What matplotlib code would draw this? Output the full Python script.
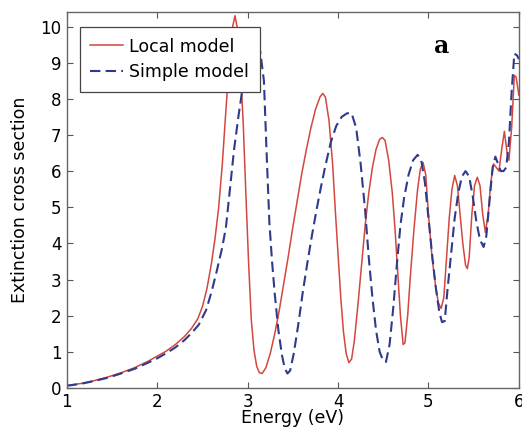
"""Extinction cross section vs energy: local vs simple model."""
import matplotlib
matplotlib.use("Agg")
import matplotlib.pyplot as plt

# ----- Data --------------------------------------------------------------

local_e = [1.00, 1.15, 1.30, 1.45, 1.60, 1.75, 1.90, 2.00, 2.10, 2.20, 2.30,
           2.38, 2.45, 2.50, 2.55, 2.60, 2.64, 2.68, 2.72, 2.76, 2.80, 2.83,
           2.86, 2.89, 2.92, 2.95, 2.98, 3.01, 3.04, 3.07, 3.10, 3.13, 3.16,
           3.20, 3.25, 3.30, 3.35, 3.40, 3.45, 3.50, 3.55, 3.60, 3.65, 3.70,
           3.75, 3.80, 3.83, 3.86, 3.90, 3.94, 3.97, 4.00, 4.03, 4.06, 4.09,
           4.12, 4.15, 4.18, 4.22, 4.26, 4.30, 4.34, 4.38, 4.42, 4.46, 4.49,
           4.52, 4.56, 4.60, 4.63, 4.66, 4.69, 4.72, 4.74, 4.77, 4.80, 4.84,
           4.88, 4.91, 4.94, 4.97, 5.00, 5.04, 5.08, 5.11, 5.14, 5.17, 5.20,
           5.23, 5.26, 5.29, 5.32, 5.35, 5.38, 5.41, 5.43, 5.45, 5.48, 5.51,
           5.54, 5.57, 5.60, 5.63, 5.66, 5.69, 5.72, 5.75, 5.78, 5.81, 5.84,
           5.87, 5.89, 5.92, 5.95, 5.97, 6.00]
local_v = [0.07, 0.12, 0.20, 0.30, 0.42, 0.56, 0.74, 0.88, 1.02, 1.20, 1.42,
           1.65, 1.92, 2.25, 2.75, 3.45, 4.15, 5.00, 6.20, 7.70, 9.10, 9.95,
           10.30, 9.90, 8.80, 7.40, 5.40, 3.50, 1.90, 1.05, 0.60, 0.42, 0.40,
           0.55, 0.95, 1.50, 2.15, 2.90, 3.65, 4.45, 5.20, 5.95, 6.60, 7.20,
           7.70, 8.05, 8.15, 8.05, 7.40, 6.20, 4.90, 3.70, 2.50, 1.55, 0.95,
           0.70, 0.80, 1.30, 2.30, 3.40, 4.50, 5.40, 6.10, 6.60, 6.88, 6.93,
           6.85, 6.30, 5.40, 4.40, 3.20, 2.00, 1.20, 1.25, 2.00, 3.10, 4.40,
           5.50, 6.05, 6.24, 5.90, 4.80, 3.60, 2.80, 2.35, 2.20, 2.50, 3.60,
           4.70, 5.50, 5.88, 5.60, 4.80, 4.00, 3.40, 3.30, 3.60, 4.80, 5.60,
           5.83, 5.60, 4.80, 4.30, 4.80, 5.70, 6.20, 6.10, 6.00, 6.60, 7.10,
           6.50, 6.30, 7.20, 8.65, 8.60, 8.10]

simple_e = [1.00, 1.15, 1.30, 1.45, 1.60, 1.75, 1.90, 2.00, 2.10, 2.20, 2.30,
            2.38, 2.46, 2.54, 2.60, 2.66, 2.72, 2.76, 2.80, 2.85, 2.90, 2.95,
            3.00, 3.05, 3.10, 3.14, 3.18, 3.21, 3.24, 3.27, 3.30, 3.34, 3.38,
            3.41, 3.44, 3.47, 3.51, 3.56, 3.61, 3.66, 3.71, 3.76, 3.81, 3.86,
            3.92, 3.98, 4.04, 4.10, 4.15, 4.20, 4.25, 4.30, 4.34, 4.38, 4.42,
            4.46, 4.50, 4.53, 4.57, 4.61, 4.65, 4.69, 4.73, 4.78, 4.83, 4.88,
            4.92, 4.96, 5.00, 5.04, 5.08, 5.12, 5.15, 5.18, 5.21, 5.25, 5.29,
            5.33, 5.37, 5.41, 5.45, 5.49, 5.53, 5.57, 5.61, 5.64, 5.68, 5.71,
            5.74, 5.77, 5.80, 5.83, 5.86, 5.89, 5.92, 5.95, 5.98, 6.00]
simple_v = [0.06, 0.11, 0.19, 0.28, 0.40, 0.53, 0.70, 0.82, 0.96, 1.12, 1.32,
            1.52, 1.75, 2.15, 2.65, 3.25, 3.90, 4.45, 5.40, 6.60, 7.55, 8.40,
            9.20, 9.70, 9.70, 9.30, 8.50, 6.50, 4.60, 3.50, 2.60, 1.60, 0.90,
            0.55, 0.40, 0.48, 0.95, 1.75, 2.65, 3.45, 4.20, 4.90, 5.55, 6.15,
            6.80, 7.25, 7.50, 7.60, 7.60, 7.20, 6.20, 4.90, 3.60, 2.50, 1.60,
            1.00, 0.75, 0.72, 1.20, 2.20, 3.40, 4.50, 5.25, 5.90, 6.30, 6.45,
            6.30, 5.70, 4.70, 3.70, 2.80, 2.10, 1.82, 1.85, 2.70, 3.70, 4.70,
            5.40, 5.85, 6.00, 5.85, 5.30, 4.60, 4.10, 3.90, 4.20, 5.30, 6.10,
            6.40, 6.20, 6.00, 6.00, 6.10, 6.80, 8.20, 9.25, 9.20, 9.10]

x_ticks = [1, 2, 3, 4, 5, 6]
y_ticks = list(range(0, 11))

# ----- Figure -------------------------------------------------------------

fig = plt.figure(figsize=(5.22, 4.32), dpi=100)
ax = fig.add_axes([0.128, 0.102, 0.866, 0.870])

ax.plot(local_e, local_v, color="#d2473f", lw=1.1, label="Local model")
ax.plot(simple_e, simple_v, color="#2e3a8a", lw=1.5, ls=(0, (5, 2.5)),
        label="Simple model")

ax.set_xlim(1, 6)
ax.set_ylim(0, 10.4)
ax.set_xticks(x_ticks)
ax.set_yticks(y_ticks)
ax.tick_params(direction="in", top=True, right=True, length=4,
               labelsize=12, color="#555555", pad=4)
for s in ax.spines.values():
    s.set_color("#666666")
    s.set_linewidth(1.0)

ax.set_xlabel("Energy (eV)", fontsize=12.5, labelpad=-2)
ax.set_ylabel("Extinction cross section", fontsize=12.5, labelpad=8)

leg = ax.legend(loc="upper left", bbox_to_anchor=(0.029, 0.96), fontsize=12.5,
                fancybox=False, framealpha=1, edgecolor="#444444",
                handlelength=1.9, borderpad=0.6, labelspacing=0.45,
                handletextpad=0.35, borderaxespad=0.0)
leg.get_frame().set_linewidth(0.9)

ax.text(0.83, 0.91, "a", transform=ax.transAxes, fontsize=17,
        fontweight="bold", family="serif", ha="center", va="center")

fig.savefig("out.png", dpi=100)
